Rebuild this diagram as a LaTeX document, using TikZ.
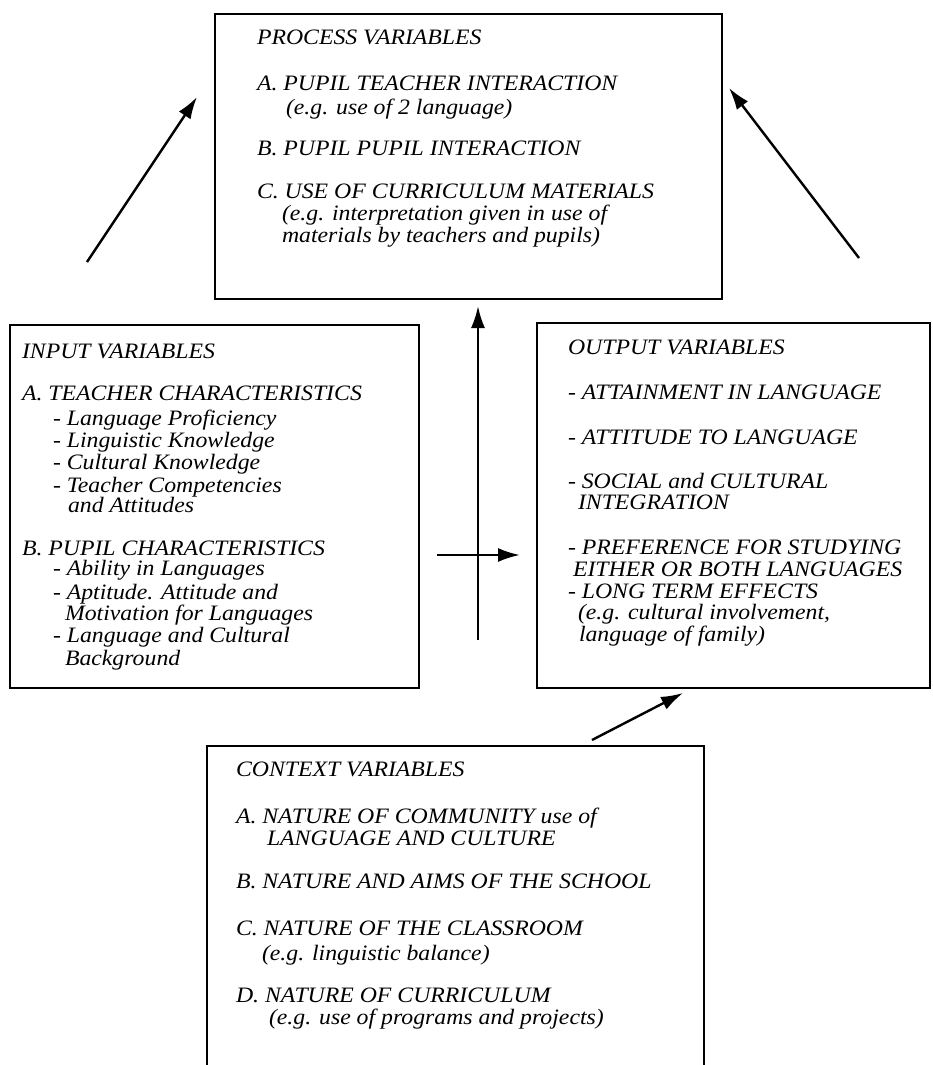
\documentclass[tikz,border=0pt]{standalone}
\usepackage{fontspec}
\usetikzlibrary{arrows.meta}
\newfontfamily\diagfont{Liberation Serif}[FakeStretch=1.08]

\begin{document}
\begin{tikzpicture}[x=1pt,y=-1pt,
  varbox/.style={draw, line width=1.5pt, inner sep=0pt, outer sep=0pt},
  openbox/.style={inner sep=0pt, outer sep=0pt},
  txt/.style={anchor=base west, inner sep=0pt, outer sep=0pt,
    font=\diagfont\itshape\fontsize{22}{22}\selectfont},
  flow/.style={line width=2.4pt, -{Latex[length=22pt,width=14pt]}}
]
\useasboundingbox (0,0) rectangle (933,1065);

% the four boxes
\node[varbox, minimum width=507pt, minimum height=285pt] (process) at (468.5,156.5) {};
\node[varbox, minimum width=409pt, minimum height=363pt] (input) at (214.5,506.5) {};
\node[varbox, minimum width=393pt, minimum height=365pt] (output) at (733.5,505.5) {};
\node[openbox, minimum width=497pt, minimum height=319pt] (context) at (455.5,905.5) {};
\draw[line width=1.5pt] (context.south west) -- (context.north west)
  -- (context.north east) -- (context.south east);

% process variables
\node[txt] (p0) at (257,45) {PROCESS VARIABLES};
\node[txt] (p1) at (257,90) {A. PUPIL TEACHER INTERACTION};
\node[txt] (p2) at (286,114) {(e.g. use of 2 language)};
\node[txt] (p3) at (257,155) {B. PUPIL PUPIL INTERACTION};
\node[txt] (p4) at (257,198) {C. USE OF CURRICULUM MATERIALS};
\node[txt] (p5) at (282,220) {(e.g. interpretation given in use of};
\node[txt] (p6) at (282,242) {materials by teachers and pupils)};

% input variables
\node[txt] (i0) at (22,358) {INPUT VARIABLES};
\node[txt] (i1) at (22,400) {A. TEACHER CHARACTERISTICS};
\node[txt] (i2) at (53,425) {- Language Proficiency};
\node[txt] (i3) at (53,447) {- Linguistic Knowledge};
\node[txt] (i4) at (53,469) {- Cultural Knowledge};
\node[txt] (i5) at (53,492) {- Teacher Competencies};
\node[txt] (i6) at (68,512) {and Attitudes};
\node[txt] (i7) at (22,555) {B. PUPIL CHARACTERISTICS};
\node[txt] (i8) at (53,575) {- Ability in Languages};
\node[txt] (i9) at (53,599) {- Aptitude. Attitude and};
\node[txt] (i10) at (65,620) {Motivation for Languages};
\node[txt] (i11) at (53,642) {- Language and Cultural};
\node[txt] (i12) at (65,665) {Background};

% output variables
\node[txt] (o0) at (568,354) {OUTPUT VARIABLES};
\node[txt] (o1) at (568,399) {- ATTAINMENT IN LANGUAGE};
\node[txt] (o2) at (568,444) {- ATTITUDE TO LANGUAGE};
\node[txt] (o3) at (568,488) {- SOCIAL and CULTURAL};
\node[txt] (o4) at (578,509) {INTEGRATION};
\node[txt] (o5) at (568,554) {- PREFERENCE FOR STUDYING};
\node[txt] (o6) at (573,576) {EITHER OR BOTH LANGUAGES};
\node[txt] (o7) at (568,598) {- LONG TERM EFFECTS};
\node[txt] (o8) at (578,619) {(e.g. cultural involvement,};
\node[txt] (o9) at (579,641) {language of family)};

% context variables
\node[txt] (c0) at (236,776) {CONTEXT VARIABLES};
\node[txt] (c1) at (236,823) {A. NATURE OF COMMUNITY use of};
\node[txt] (c2) at (267,845) {LANGUAGE AND CULTURE};
\node[txt] (c3) at (236,888) {B. NATURE AND AIMS OF THE SCHOOL};
\node[txt] (c4) at (236,935) {C. NATURE OF THE CLASSROOM};
\node[txt] (c5) at (262,960) {(e.g. linguistic balance)};
\node[txt] (c6) at (236,1002) {D. NATURE OF CURRICULUM};
\node[txt] (c7) at (269,1024) {(e.g. use of programs and projects)};

% connector end points
\coordinate (leftTail) at (87,262);
\coordinate (leftHead) at (197,97);
\coordinate (rightTail) at (859,258);
\coordinate (rightHead) at (729,88);
\coordinate (upTail) at (478,640);
\coordinate (upHead) at (478,306);
\coordinate (acrossTail) at (437,555);
\coordinate (acrossHead) at (520,555);
\coordinate (ctxTail) at (592,740);
\coordinate (ctxHead) at (683,693);

\draw[flow] (leftTail) -- (leftHead);
\draw[flow] (rightTail) -- (rightHead);
\draw[flow] (upTail) -- (upHead);
\draw[flow] (acrossTail) -- (acrossHead);
\draw[flow] (ctxTail) -- (ctxHead);
\end{tikzpicture}
\end{document}
